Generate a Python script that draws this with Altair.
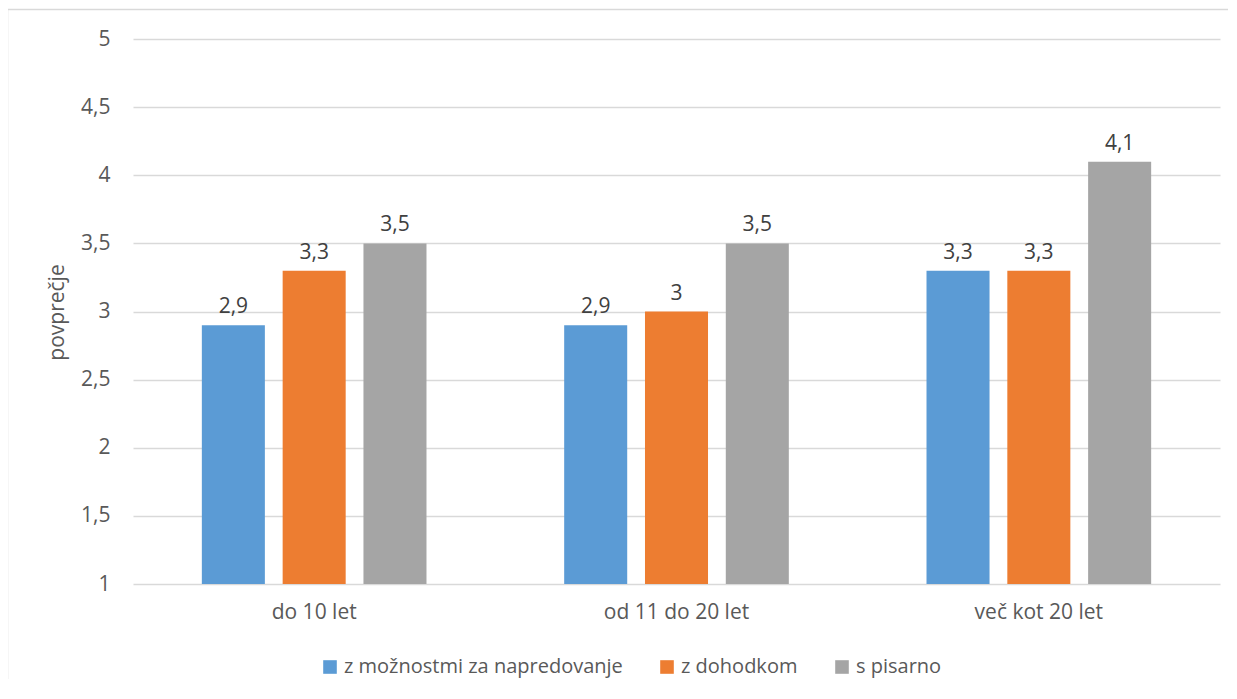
import altair as alt
import pandas as pd

categories = ["do 10 let", "od 11 do 20 let", "več kot 20 let"]
series = ["z možnostmi za napredovanje", "z dohodkom", "s pisarno"]
v_napredovanje = [2.9, 2.9, 3.3]
v_dohodek = [3.3, 3.0, 3.3]
v_pisarna = [3.5, 3.5, 4.1]
colors = ["#5B9BD5", "#ED7D31", "#A5A5A5"]
y_ticks = [1, 1.5, 2, 2.5, 3, 3.5, 4, 4.5, 5]

rows = []
for s, vals in zip(series, [v_napredovanje, v_dohodek, v_pisarna]):
    for c, v in zip(categories, vals):
        rows.append({"kategorija": c, "serija": s, "vrednost": v})
df = pd.DataFrame(rows)

FONT = "Open Sans"
TXT = "#595959"
FS = 21

x_enc = alt.X(
    "kategorija:N",
    sort=categories,
    scale=alt.Scale(paddingInner=0.38, paddingOuter=0.19),
    axis=alt.Axis(
        title=None, labelAngle=0, ticks=False, domain=False,
        labelFontSize=FS, labelColor=TXT, labelPadding=17, labelFont=FONT,
    ),
)
xoff_enc = alt.XOffset(
    "serija:N", sort=series, scale=alt.Scale(paddingInner=0.22, paddingOuter=0)
)

base = alt.Chart(df).transform_calculate(
    base="1", label="replace(toString(datum.vrednost), '.', ',')"
)

bars = base.mark_bar().encode(
    x=x_enc,
    xOffset=xoff_enc,
    y=alt.Y(
        "vrednost:Q",
        scale=alt.Scale(domain=[1, 5], zero=False, nice=False),
        axis=alt.Axis(
            values=y_ticks,
            labelExpr="replace(toString(datum.value), '.', ',')",
            title="povprečje",
            titleFont=FONT, titleFontSize=21, titleFontWeight="normal", titleColor=TXT,
            titleAngle=-90, titleX=-76, titleY=273, titleAlign="center",
            titleBaseline="middle",
            labelFont=FONT, labelFontSize=FS, labelColor=TXT, labelPadding=23,
            ticks=False, domain=False, grid=True, gridColor="#D9D9D9", gridWidth=1.3,
        ),
    ),
    y2="base:Q",
    color=alt.Color(
        "serija:N",
        sort=series,
        scale=alt.Scale(domain=series, range=colors),
        legend=alt.Legend(
            title=None, orient="none", direction="horizontal",
            legendX=187, legendY=618,
            symbolType="square", symbolSize=185, symbolStrokeWidth=0,
            labelFont=FONT, labelFontSize=20, labelColor=TXT, labelLimit=0,
            columnPadding=34, labelOffset=4,
        ),
    ),
)

labels = base.mark_text(
    baseline="bottom", dy=-8, fontSize=FS, font=FONT, color="#404040"
).encode(
    x=alt.X("kategorija:N", sort=categories),
    xOffset=alt.XOffset("serija:N", sort=series),
    y=alt.Y("vrednost:Q"),
    text="label:N",
)

frame_data = alt.Data(values=[{"a": 1}])
left_edge = alt.Chart(frame_data).mark_rule(
    color="#D9D9D9", strokeWidth=1.5, clip=False
).encode(x=alt.value(-125.5), y=alt.value(-29.5), y2=alt.value(640))
top_edge = alt.Chart(frame_data).mark_rule(
    color="#D9D9D9", strokeWidth=1.5, clip=False
).encode(x=alt.value(-125.5), x2=alt.value(1095), y=alt.value(-29.5))

chart = alt.layer(left_edge, top_edge, bars, labels).properties(
    width=1087, height=545,
    background="white",
    autosize=alt.AutoSizeParams(type="none"),
    padding={"left": 125, "top": 31, "right": 9, "bottom": 96},
).configure_view(stroke=None)

chart.save("out.html", embed_options={"renderer": "svg", "actions": False})
